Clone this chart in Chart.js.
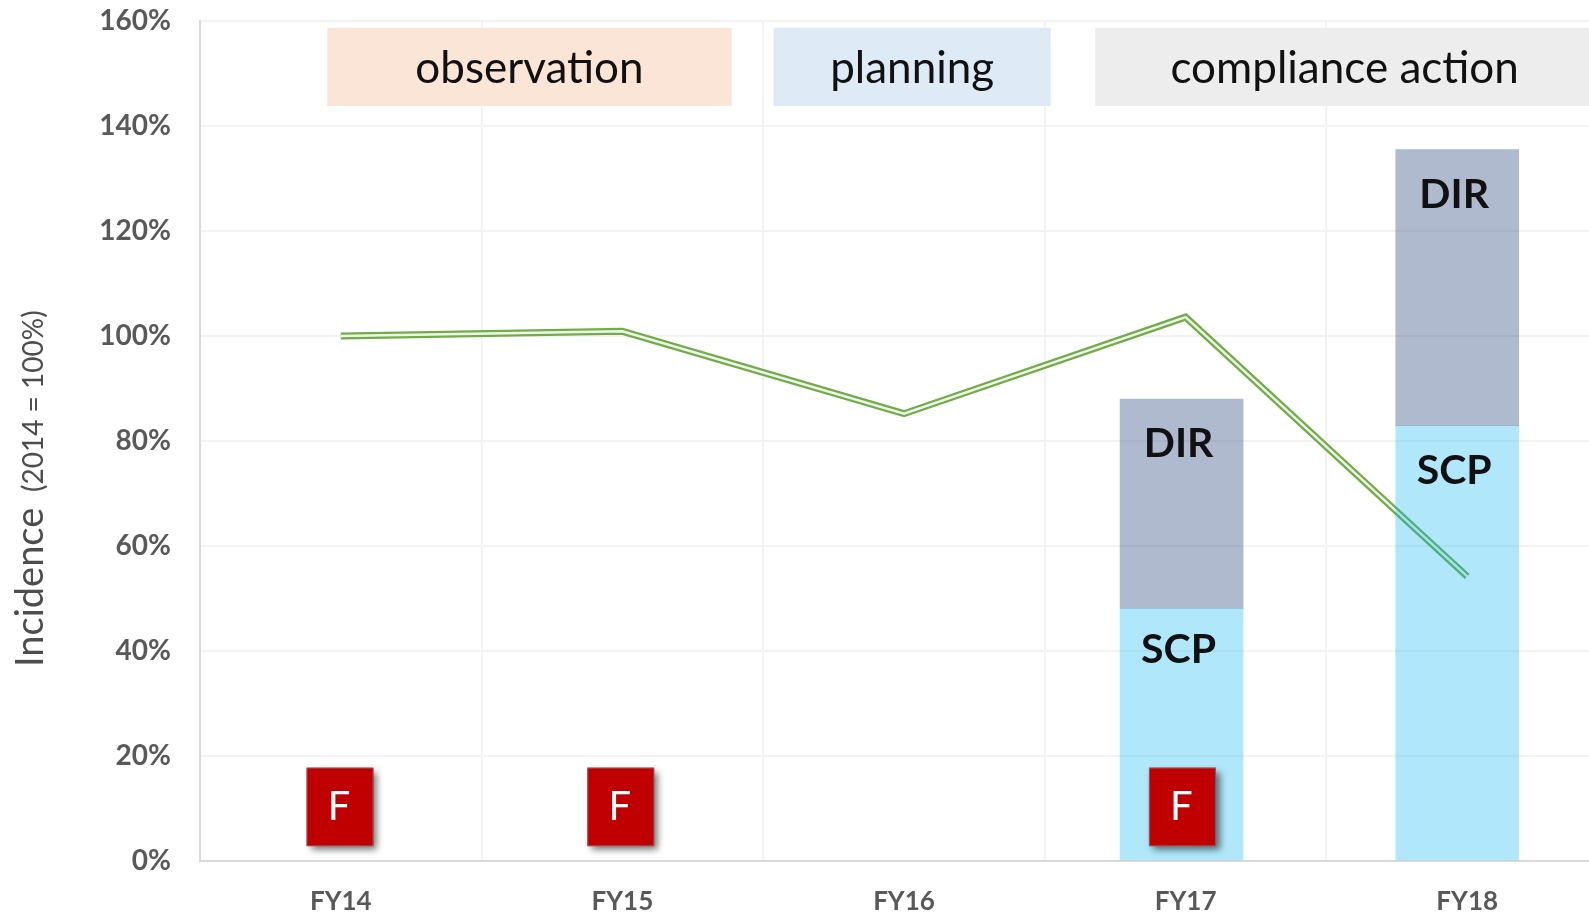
<!DOCTYPE html>
<html>
<head>
<meta charset="utf-8">
<title>Incidence</title>
<script src="https://cdn.jsdelivr.net/npm/chart.js@4"></script>
<style>
  html, body { margin: 0; background: #fff; overflow: hidden; }
  canvas { display: block; }
</style>
</head>
<body>
<canvas id="chart" width="1608" height="914"></canvas>
<script>
const categories = ['FY14', 'FY15', 'FY16', 'FY17', 'FY18'];
const trend = [100, 100.9, 85.2, 103.6, 54.2];

const barYears = ['FY17', 'FY18'];
const scp = [48.1, 82.9];
const dir = [39.9, 52.6];

const flagYears = ['FY14', 'FY15', 'FY17'];
const flagLow = [2.9, 2.9, 2.9];
const flagHigh = [17.7, 17.7, 17.7];

// phase bands, x in category units, y in axis percent
const phaseLabels = ['observation', 'planning', 'compliance action'];
const phaseStart = [-0.048, 1.537, 2.679];
const phaseEnd = [1.388, 2.521, 4.6];
const phaseColors = ['#FBE5D6', '#DEEBF7', '#EDEDED'];
const phaseTop = 158.7;
const phaseBottom = 143.8;

const yMax = 160;
const yStep = 20;

const GREY = '#595959';
const idx = y => categories.indexOf(y);

const overlay = {
  id: 'overlay',
  beforeDatasetsDraw(chart) {
    const { ctx, scales: { x, y } } = chart;
    ctx.save();
    phaseLabels.forEach((label, i) => {
      const left = x.getPixelForValue(phaseStart[i]);
      const right = x.getPixelForValue(phaseEnd[i]);
      const top = y.getPixelForValue(phaseTop);
      const bottom = y.getPixelForValue(phaseBottom);
      ctx.fillStyle = phaseColors[i];
      ctx.fillRect(left, top, right - left, bottom - top);
    });
    ctx.restore();
  },
  beforeDatasetDraw(chart, args) {
    if (chart.data.datasets[args.index].label !== 'F') return;
    const ctx = chart.ctx;
    ctx.save();
    ctx.shadowColor = 'rgba(0,0,0,0.55)';
    ctx.shadowBlur = 7;
    ctx.shadowOffsetX = 4;
    ctx.shadowOffsetY = 4;
  },
  afterDatasetDraw(chart, args) {
    if (chart.data.datasets[args.index].label === 'F') chart.ctx.restore();
  },
  afterDatasetsDraw(chart) {
    const { ctx, scales: { x, y } } = chart;
    ctx.save();
    ctx.textAlign = 'center';
    ctx.textBaseline = 'middle';

    // phase captions
    ctx.fillStyle = '#111';
    ctx.font = '44px Lato';
    phaseLabels.forEach((label, i) => {
      const right = x.getPixelForValue(phaseEnd[i]);
      const left = x.getPixelForValue(phaseStart[i]);
      const top = y.getPixelForValue(phaseTop);
      const bottom = y.getPixelForValue(phaseBottom);
      ctx.fillText(label, (left + right) / 2 - (i === 2 ? 21 : 0), (top + bottom) / 2 + 2);
    });

    // stack captions and F flags
    chart.data.datasets.forEach((ds, i) => {
      if (ds.label === 'SCP' || ds.label === 'DIR') {
        ctx.fillStyle = '#111';
        ctx.font = '700 41px Lato';
        chart.getDatasetMeta(i).data.forEach((bar, k) => {
          const drop = ds.label === 'SCP' && k === 0 ? 41 : 45;
          ctx.fillText(ds.label, bar.x - 3, bar.y + drop);
        });
      } else if (ds.label === 'F') {
        chart.getDatasetMeta(i).data.forEach(bar => {
          ctx.strokeStyle = '#8f5a5a';
          ctx.lineWidth = 1;
          ctx.strokeRect(bar.x - bar.width / 2, bar.y, bar.width, bar.base - bar.y);
          ctx.fillStyle = '#fff';
          ctx.font = '40px Lato';
          ctx.fillText('F', bar.x - 1, (bar.y + bar.base) / 2);
        });
      }
    });

    // y axis title, two sizes so drawn by hand
    ctx.translate(43, 0);
    ctx.rotate(-Math.PI / 2);
    ctx.textAlign = 'left';
    ctx.textBaseline = 'alphabetic';
    ctx.fillStyle = '#4d4d4d';
    ctx.font = '38px Lato';
    ctx.fillText('Incidence', -667, 0);
    ctx.font = '28px Lato';
    ctx.fillText('(2014 = 100%)', -492, 0);
    ctx.restore();
  }
};

new Chart(document.getElementById('chart').getContext('2d'), {
  type: 'bar',
  data: {
    labels: categories,
    datasets: [
      {
        type: 'bar',
        label: 'F',
        order: 0,
        xAxisID: 'xFlags',
        stack: 'flags',
        grouped: false,
        data: flagYears.map((y, i) => ({ x: idx(y), y: [flagLow[i], flagHigh[i]] })),
        backgroundColor: '#C00000',
        barThickness: 66
      },
      {
        type: 'bar',
        label: 'SCP',
        order: 1,
        xAxisID: 'xBars',
        stack: 'bars',
        grouped: false,
        data: barYears.map((y, i) => ({ x: idx(y), y: scp[i] })),
        backgroundColor: 'rgba(0,176,240,0.31)',
        barThickness: 123
      },
      {
        type: 'bar',
        label: 'DIR',
        order: 1,
        xAxisID: 'xBars',
        stack: 'bars',
        grouped: false,
        data: barYears.map((y, i) => ({ x: idx(y), y: dir[i] })),
        backgroundColor: 'rgba(55,82,135,0.4)',
        barThickness: 123
      },
      {
        type: 'line',
        label: 'Incidence gap',
        order: 2,
        stack: 'gap',
        data: trend,
        borderColor: 'rgba(255,255,255,0.9)',
        borderWidth: 2.5,
        borderJoinStyle: 'miter',
        pointRadius: 0,
        tension: 0
      },
      {
        type: 'line',
        label: 'Incidence',
        order: 3,
        stack: 'trend',
        data: trend,
        borderColor: '#70AD47',
        borderWidth: 7,
        borderJoinStyle: 'miter',
        pointRadius: 0,
        tension: 0
      }
    ]
  },
  options: {
    responsive: false,
    animation: false,
    plugins: { legend: { display: false }, tooltip: { enabled: false } },
    scales: {
      x: {
        type: 'category',
        offset: true,
        grid: { offset: true, color: '#f3f3f3', lineWidth: 2, drawTicks: false },
        border: { color: '#d9d9d9', width: 2 },
        ticks: {
          color: GREY,
          font: { family: 'Lato', size: 26, weight: '700' },
          padding: 25,
          maxRotation: 0,
          autoSkip: false
        },
        afterFit(scale) { scale.height = 53; }
      },
      // hidden scales: the pasted bars and flags do not sit quite on the category centres
      xBars: {
        type: 'linear',
        display: false,
        offset: false,
        min: -0.561,
        max: 4.547,
        grid: { offset: false }
      },
      xFlags: {
        type: 'linear',
        display: false,
        offset: false,
        min: -0.4986,
        max: 4.5157,
        grid: { offset: false }
      },
      y: {
        stacked: true,
        min: 0,
        max: yMax,
        grid: { color: '#f3f3f3', lineWidth: 2, drawTicks: false },
        border: { color: '#d9d9d9', width: 2 },
        ticks: {
          stepSize: yStep,
          color: GREY,
          font: { family: 'Lato', size: 28, weight: '700' },
          padding: 29,
          callback: v => v + '%'
        },
        afterFit(scale) {
          scale.width = 200;
          scale.paddingTop = 21;
        }
      }
    }
  },
  plugins: [overlay]
});
</script>
</body>
</html>
